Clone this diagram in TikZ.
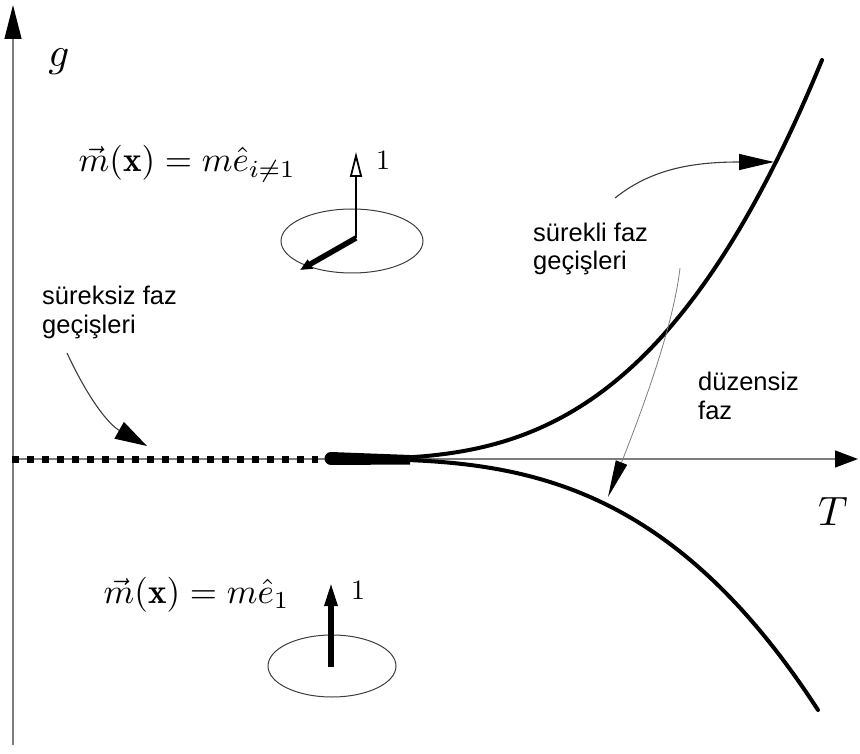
\documentclass[tikz,border=0pt]{standalone}
\usepackage{fontspec}
\newfontfamily\labfont{Liberation Sans}
\usetikzlibrary{arrows.meta}
\definecolor{axisgray}{RGB}{125,125,125}
\definecolor{linegray}{RGB}{60,60,60}
\begin{document}
\begin{tikzpicture}[x=1pt,y=-1pt,
  axis/.style={draw=axisgray,line width=1.3pt},
  curve/.style={line width=4pt,line cap=round},
  lab/.style={font=\labfont\fontsize{25.5}{29}\selectfont,anchor=base west,inner sep=0pt},
  mlab/.style={scale=3.5,anchor=base west,inner sep=0pt},
  bigm/.style={scale=4.1,anchor=base,inner sep=0pt},
  onelab/.style={scale=2.8,inner sep=0pt},
  note/.style={draw=linegray,line width=1.1pt},
  ring/.style={draw=linegray,line width=1pt}]
\useasboundingbox (0,0) rectangle (860,754);

% axes
\coordinate (ybot) at (13,745);
\coordinate (ytop) at (13,5);
\coordinate (xl) at (13,459);
\coordinate (xr) at (858,459);
\draw[axis,-{Triangle[length=34pt,width=17pt,color=black]}] (ybot) -- (ytop);
\draw[axis,-{Triangle[length=23pt,width=17pt,color=black]}] (xl) -- (xr);

\node[bigm] (g) at (59,67) {$g$};
\node[bigm] (T) at (833,525) {$T$};

% first-order line (dotted)
\coordinate (d0) at (12,459);
\coordinate (d1) at (318,459);
\draw[line width=7pt,dash pattern=on 7pt off 8pt] (d0) -- (d1);

% cusp and second-order lines
\coordinate (cusp) at (330,459);
\fill (331,458.5) circle[radius=6.5pt];
\fill (331,452) -- (410,455) -- (410,464.5) -- (331,465) -- cycle;
\draw[curve] plot[domain=330:822,samples=90] (\x,{459-3.35*((\x-330)/100)^3});
\draw[curve] plot[domain=330:818,samples=90] (\x,{459+2.16*((\x-330)/100)^3});

% labels
\node[lab] (s1) at (42,305) {süreksiz faz};
\node[lab] (s2) at (42,334) {geçişleri};
\node[lab] (c1) at (533,242) {sürekli faz};
\node[lab] (c2) at (533,270) {geçişleri};
\node[lab] (d1l) at (698,390) {düzensiz};
\node[lab] (d2l) at (698,419) {faz};

% annotation arrows
\coordinate (a0) at (67,353);
\coordinate (a1) at (147,446);
\draw[note,-{Triangle[length=32pt,width=19pt,color=black]}] (a0) .. controls (88,398) and (108,424) .. (a1);
\coordinate (b0) at (615,198);
\coordinate (b1) at (774,162);
\draw[note,-{Triangle[length=35pt,width=16pt,color=black]}] (b0) .. controls (650,170) and (690,162) .. (b1);
\coordinate (c0) at (680,268);
\coordinate (cc1) at (608,497);
\draw[draw=axisgray,line width=0.8pt,-{Triangle[length=37pt,width=12pt,color=black]}] (c0) .. controls (674,320) and (650,390) .. (cc1);

% top: m = m e_{i != 1}
\node[mlab] (f1) at (78,172) {$\vec m(\mathbf{x}) = m\hat e_{i\neq 1}$};
\draw[ring] (352,241) ellipse [x radius=71, y radius=32];
\coordinate (o1) at (356,238);
\coordinate (u1) at (356,152);
\coordinate (w1) at (300,270);
\draw[line width=1.8pt,-{Triangle[open,length=25pt,width=12pt]}] (o1) -- (u1);
\draw[line width=5.5pt,-{Triangle[length=12pt,width=10pt]}] (o1) -- (w1);
\node[onelab] (one1) at (383,160) {$1$};

% bottom: m = m e_1
\node[mlab] (f2) at (103,603) {$\vec m(\mathbf{x}) = m\hat e_1$};
\draw[ring] (332,666) ellipse [x radius=64, y radius=31];
\coordinate (o2) at (331,667);
\coordinate (u2) at (331,582);
\draw[line width=5.5pt,-{Triangle[length=24pt,width=12pt]}] (o2) -- (u2);
\node[onelab] (one2) at (358,590) {$1$};
\end{tikzpicture}
\end{document}
